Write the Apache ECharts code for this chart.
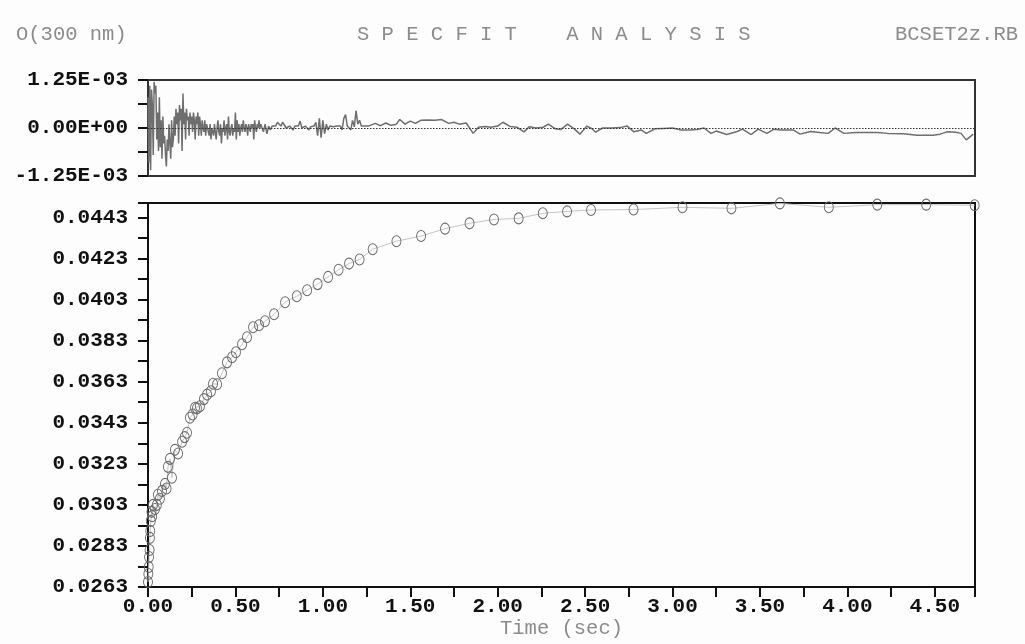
<!DOCTYPE html>
<html>
<head>
<meta charset="utf-8">
<script src="https://cdn.jsdelivr.net/npm/echarts@6/dist/echarts.min.js"></script>
<style>
  html, body { margin: 0; padding: 0; background: #fdfdfd; }
  #chart { width: 1025px; height: 644px; }
</style>
</head>
<body>
<div id="chart"></div>
<script>
// observed absorbance at 300 nm vs time (sec)
const obsPoints = [
  [0.000, 0.02654], [0.002, 0.02693], [0.004, 0.02727], [0.006, 0.02776], [0.009, 0.02810],
  [0.011, 0.02869], [0.013, 0.02903], [0.016, 0.02952], [0.020, 0.02996], [0.024, 0.02975],
  [0.029, 0.03030], [0.040, 0.03010], [0.051, 0.03030], [0.057, 0.03079], [0.068, 0.03060],
  [0.080, 0.03098], [0.097, 0.03132], [0.106, 0.03110], [0.114, 0.03215], [0.126, 0.03254],
  [0.137, 0.03162], [0.154, 0.03298], [0.172, 0.03280], [0.195, 0.03337], [0.210, 0.03360],
  [0.223, 0.03381], [0.240, 0.03454], [0.255, 0.03470], [0.269, 0.03503], [0.280, 0.03500],
  [0.297, 0.03510], [0.320, 0.03545], [0.338, 0.03567], [0.360, 0.03583], [0.372, 0.03620],
  [0.395, 0.03617], [0.423, 0.03671], [0.452, 0.03724], [0.481, 0.03749], [0.503, 0.03773],
  [0.538, 0.03812], [0.566, 0.03846], [0.601, 0.03895], [0.635, 0.03905], [0.669, 0.03924],
  [0.721, 0.03958], [0.784, 0.04017], [0.851, 0.04046], [0.910, 0.04075], [0.970, 0.04105],
  [1.030, 0.04140], [1.090, 0.04175], [1.150, 0.04205], [1.210, 0.04225], [1.285, 0.04275],
  [1.421, 0.04314], [1.562, 0.04339], [1.699, 0.04375], [1.839, 0.04401], [1.979, 0.04420],
  [2.120, 0.04425], [2.258, 0.04450], [2.397, 0.04459], [2.534, 0.04466], [2.777, 0.04468],
  [3.057, 0.04479], [3.337, 0.04474], [3.614, 0.04498], [3.894, 0.04479], [4.171, 0.04492],
  [4.451, 0.04492], [4.728, 0.04489]
];

// residuals in units of 1e-4, dense start sampled every 0.005 s from t=0
const residDenseStep = 0.005;
const residDense = [
  8, -9, 11, -11, 10, 6, -7, 12, 9, 11,
  -3, 4, -6, 8, -5, 2, -8, 3, -4, -2,
  -7, -10, -3, -6, 1, -4, -8, 2, -5, -3,
  3, -2, 5, 1, 4, -4, 6, 2, 5, -6,
  9, 1, 4, -3, 5, 2, 3, -2, 4, 1,
  3, -1, 4, 2, -3, 3, 1, 4, -2, 3,
  1, -2, 2, 0, -1, 2, -2, 1, 0, -1,
  -2, 1, -3, 0, -1, -2, 1, -1, -3, 0,
  2, -1, -2, 1, -4, 0, -1, 2, -2, 0,
  1, -3, 3, -1, -2, 0, 1, -2, 0, -1,
  4, -3, 2, -1, 1, -2, 0, 1, -1, 2,
  0, -1, 1, 0, -2, 1, 0, -1, 1, 0,
  1, -3, 2, 0, -1, 1, 0, 2, 0, 1
];
// middle part sampled every 0.01 s from t=0.65
const residMidStart = 0.65;
const residMidStep = 0.01;
const residMid = [
  0.5, -1, 1, -1.5, 0.5, -0.5, 0.5, 1, 0.5, 1.5,
  1, 0.5, 1.5, 1, 0, -0.5, 0.5, 0, -0.5, 0.5,
  1, 0.5, 1.8, 0, -0.5, 0.5, 0, -0.5, 0.3, 0,
  0.5, 1.5, -2, 2.5, -2.5, 2, -1.5, 1, -0.5, 0.5,
  0, 0.3, 0, 0.5, 1, 0.5, -0.5, 2.5, 3.5, 0.5,
  1, -0.5, 2, 0.3, 4.5, 1, 2, 0.5, 0.5, 0.5
];
// sparse tail [t, residual*1e4]
const residTail = [
  [1.26, 0.5], [1.30, 1.2], [1.33, 0.6], [1.36, 1.3], [1.39, 0.7], [1.42, 1.0], [1.44, 2.2],
  [1.47, 1.0], [1.50, 1.8], [1.53, 1.2], [1.56, 2.0], [1.60, 2.1], [1.64, 2.0], [1.68, 2.2],
  [1.72, 1.2], [1.75, 1.5], [1.78, 1.0], [1.82, 1.3], [1.86, -1.4], [1.89, 0.2], [1.93, 0.4],
  [1.96, 0.2], [2.00, 0.5], [2.03, 1.5], [2.07, 0.4], [2.11, 0.2], [2.15, -1.0], [2.18, 0.3],
  [2.22, 0], [2.26, 0.2], [2.29, 1.0], [2.33, -0.2], [2.36, -0.4], [2.40, 1.0], [2.44, -0.3],
  [2.47, -1.6], [2.51, 0.5], [2.54, -0.2], [2.56, -1.1], [2.60, 0], [2.65, 0], [2.70, 0.1],
  [2.74, 0.5], [2.78, -1.0], [2.82, -0.5], [2.85, -1.4], [2.90, -0.2], [2.95, -0.1], [3.00, 0],
  [3.05, -0.5], [3.10, -0.5], [3.14, -0.4], [3.18, 0], [3.22, -1.4], [3.25, -0.8], [3.31, -1.7],
  [3.37, -0.9], [3.40, -0.3], [3.45, -1.7], [3.49, -0.3], [3.54, -1.4], [3.58, -0.3], [3.62, -0.5],
  [3.69, -0.5], [3.73, -1.6], [3.79, -0.9], [3.84, -1.2], [3.89, -1.4], [3.93, 0], [3.98, -1.4],
  [4.05, -1.2], [4.11, -1.2], [4.17, -1.2], [4.23, -1.4], [4.32, -1.5], [4.40, -1.9], [4.49, -1.9],
  [4.53, -1.6], [4.57, -1.0], [4.62, -1.1], [4.65, -1.4], [4.68, -3.1], [4.72, -1.6]
];

// axis ranges
const T_MAX = 4.73;
const Y_MIN = 0.0263, Y_MAX = 0.0450, Y_STEP = 0.001;
const R_LIM = 0.00125;

// build residual series (convert 1e-4 units)
const residData = [];
residDense.forEach((v, i) => residData.push([i * residDenseStep, v * 1e-4]));
residMid.forEach((v, i) => residData.push([residMidStart + i * residMidStep, v * 1e-4]));
residTail.forEach(p => residData.push([p[0], p[1] * 1e-4]));

const FONT = "'Liberation Mono', 'DejaVu Sans Mono', monospace";
const INK = '#111';
const GRAY = '#8c8c8c';

const fmtSci = v => {
  if (Math.abs(v) < 1e-12) return '0.00E+00';
  const e = Math.floor(Math.log10(Math.abs(v)) + 1e-9);
  const m = (v / Math.pow(10, e)).toFixed(2);
  const es = (e < 0 ? '-' : '+') + String(Math.abs(e)).padStart(2, '0');
  return m + 'E' + es;
};

const chart = echarts.init(document.getElementById('chart'), null, { renderer: 'canvas' });

chart.setOption({
  animation: false,
  backgroundColor: '#fdfdfd',
  graphic: [
    { type: 'text', left: 16, top: 24, style: { text: 'O(300 nm)', font: '20.5px ' + FONT, fill: GRAY } },
    { type: 'text', left: 357, top: 24, style: { text: 'S P E C F I T    A N A L Y S I S', font: '20.5px ' + FONT, fill: GRAY } },
    { type: 'text', right: 7, top: 24, style: { text: 'BCSET2z.RB', font: '20.5px ' + FONT, fill: GRAY } }
  ],
  // fixed plot boxes, no automatic shrinking to fit labels
  grid: [
    { left: 148, top: 80, width: 827, height: 96, outerBoundsMode: 'none', containLabel: false,
      show: true, borderColor: '#333', borderWidth: 2, backgroundColor: 'transparent' },
    { left: 148, top: 203, width: 827, height: 384, outerBoundsMode: 'none', containLabel: false,
      show: true, borderColor: '#111', borderWidth: 2, backgroundColor: 'transparent' }
  ],
  xAxis: [
    {
      gridIndex: 0, type: 'value', min: 0, max: T_MAX,
      axisLine: { show: false }, axisTick: { show: false }, axisLabel: { show: false }, splitLine: { show: false }
    },
    {
      gridIndex: 1, type: 'value', min: 0, max: T_MAX, interval: 0.25,
      name: 'Time (sec)', nameLocation: 'middle', nameGap: 31, nameMoveOverlap: false,
      nameTextStyle: { fontFamily: FONT, fontSize: 20.5, color: GRAY },
      axisLine: { show: true, onZero: false, lineStyle: { color: INK, width: 2 } },
      axisTick: { show: true, length: 10, lineStyle: { color: INK, width: 2 } },
      splitLine: { show: false },
      axisLabel: {
        margin: 9, fontFamily: FONT, fontSize: 21, fontWeight: 'bold', color: INK,
        formatter: v => {
          const k = Math.round(v / 0.25);
          if (Math.abs(v - k * 0.25) > 1e-6) return '';
          return k % 2 === 0 ? v.toFixed(2) : '';
        }
      }
    }
  ],
  yAxis: [
    {
      gridIndex: 0, type: 'value', min: -R_LIM, max: R_LIM, interval: R_LIM / 2,
      axisLine: { show: true, lineStyle: { color: '#333', width: 2 } },
      axisTick: { show: true, length: 10, lineStyle: { color: INK, width: 2 } },
      splitLine: { show: false },
      axisLabel: {
        margin: 20, fontFamily: FONT, fontSize: 21, fontWeight: 'bold', color: INK,
        formatter: v => {
          const k = Math.round(v / (R_LIM / 2));
          return k % 2 === 0 ? fmtSci(v) : '';
        }
      }
    },
    {
      gridIndex: 1, type: 'value', min: Y_MIN, max: Y_MAX, interval: Y_STEP,
      axisLine: { show: true, lineStyle: { color: INK, width: 2 } },
      axisTick: { show: true, length: 10, lineStyle: { color: INK, width: 2 } },
      splitLine: { show: false },
      axisLabel: {
        margin: 20, fontFamily: FONT, fontSize: 21, fontWeight: 'bold', color: INK,
        formatter: v => {
          const k = Math.round((v - Y_MIN) / Y_STEP);
          if (Math.abs(v - (Y_MIN + k * Y_STEP)) > 1e-7) return '';
          return k % 2 === 0 ? v.toFixed(4) : '';
        }
      }
    }
  ],
  series: [
    {
      name: 'residual', type: 'line', xAxisIndex: 0, yAxisIndex: 0,
      data: residData, showSymbol: false, symbol: 'none',
      lineStyle: { color: '#6e6e6e', width: 1.5 },
      markLine: {
        silent: true, symbol: 'none', label: { show: false },
        lineStyle: { color: '#333', type: [1.5, 1.5], width: 1 },
        data: [{ yAxis: 0 }]
      }
    },
    {
      name: 'A300', type: 'line', xAxisIndex: 1, yAxisIndex: 1,
      data: obsPoints, symbol: 'circle', symbolSize: [9, 11], showSymbol: true,
      lineStyle: { color: '#c4c4c4', width: 1 },
      itemStyle: { color: 'rgba(0,0,0,0)', borderColor: '#6a6a6a', borderWidth: 1 }
    }
  ]
});
</script>
</body>
</html>
